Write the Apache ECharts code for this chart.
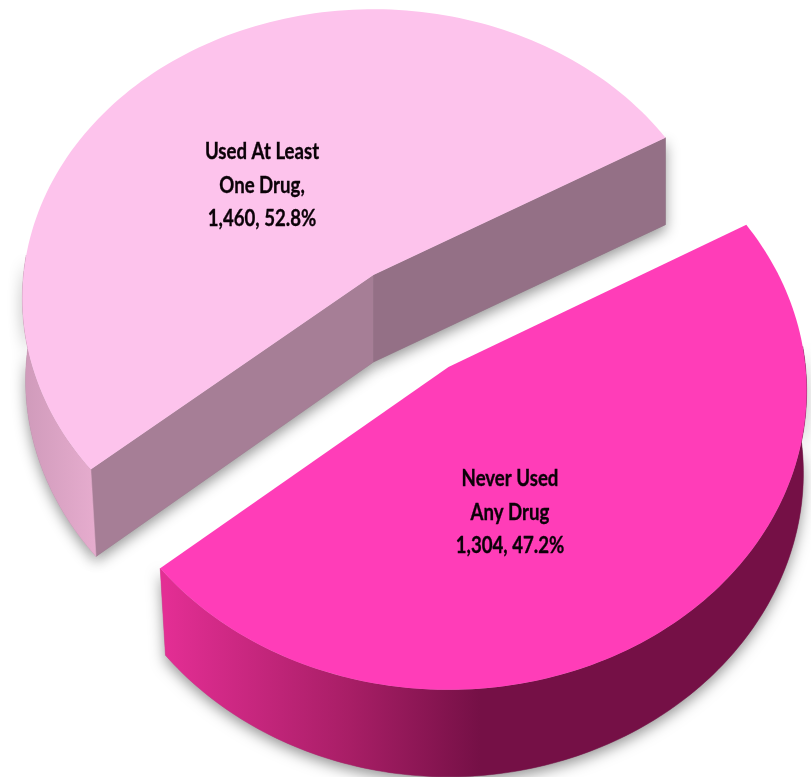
<!DOCTYPE html>
<html>
<head>
<meta charset="utf-8">
<style>html,body{margin:0;padding:0;background:#fff}#chart{width:811px;height:777px}</style>
<script src="https://cdn.jsdelivr.net/npm/echarts@6/dist/echarts.min.js"></script>
</head>
<body>
<div id="chart"></div>
<script>
// Drug use among respondents
const sliceNames = ['Used At Least One Drug', 'Never Used Any Drug'];
const sliceCounts = [1460, 1304];
const sliceLabels = [
  ['Used At Least', 'One Drug,', '1,460, 52.8%'],
  ['Never Used', 'Any Drug', '1,304, 47.2%']
];

const total = sliceCounts.reduce((a, b) => a + b, 0);
const DEG = Math.PI / 180;
const perspective = 0.08;
const depth = 87;
const firstAngle = 140;   // clockwise on screen, 0 = towards the right

// Each slice is pulled away from the pie, so it has its own disc placement.
const discs = [
  { cx: 373.5, cy: 275, a: 350, b: 287, label: [262, 152], top: '#FDC3EC',
    cutA: '#A67E96', cutB: '#947086',
    side: [[22, '#CF9ABA'], [95, '#E6ACCE']] },
  { cx: 448.5, cy: 367, a: 357, b: 297, label: [510, 479], top: '#FF3DB8',
    cutA: '#E22D92', cutB: '#751046',
    side: [[165, '#E32E94'], [350, '#A81E66'], [480, '#751046'], [806, '#751046']] }
];

function project(d, deg, r, z) {
  const X = r * Math.cos(deg * DEG), Y = r * Math.sin(deg * DEG);
  const w = 1 - perspective * Y;
  // The lower rim narrows slightly towards the viewer.
  const shrink = Math.max(0.008 + 0.016 * Y, 0) * z;
  return [
    d.cx + d.a * X / w * (1 - shrink),
    d.cy + d.b * Y / w + depth * z
  ];
}

function arc(d, from, to, z) {
  const pts = [], n = 140;
  for (let i = 0; i <= n; i++) pts.push(project(d, from + (to - from) * i / n, 1, z));
  return pts;
}

const shadow = { fill: '#888', shadowColor: 'rgba(0,0,0,0.42)', shadowBlur: 14, shadowOffsetY: 5 };

function gradientAcross(stops) {
  const x0 = stops[0][0], x1 = stops[stops.length - 1][0];
  return {
    type: 'linear', global: true, x: x0, y: 0, x2: x1, y2: 0,
    colorStops: stops.map(s => ({ offset: (s[0] - x0) / (x1 - x0), color: s[1] }))
  };
}

function renderSlice(params, api) {
  const i = params.dataIndex;
  const d = discs[i];
  const sweep = api.value(0) / total * 360;
  let start = firstAngle;
  for (let k = 0; k < i; k++) start += sliceCounts[k] / total * 360;
  const end = start + sweep;
  const mid = (start + end) / 2;
  const apexTop = project(d, 0, 0, 0), apexLow = project(d, 0, 0, 1);
  const faces = [];

  // Cut faces only show on the slice whose middle points away from the viewer.
  if (Math.sin(mid * DEG) < 0) {
    faces.push({ fill: d.cutA, points: [apexTop, project(d, start, 1, 0), project(d, start, 1, 1), apexLow] });
    faces.push({ fill: d.cutB, points: [apexTop, project(d, end, 1, 0), project(d, end, 1, 1), apexLow] });
  }

  // Outer wall: only the front-facing part of the rim.
  const normStart = ((start % 360) + 360) % 360;
  const wallFrom = normStart > 185 ? normStart - 360 : normStart;
  const from = Math.max(wallFrom, -4), to = Math.min(wallFrom + sweep, 184);
  if (to > from) {
    faces.push({ fill: gradientAcross(d.side), points: arc(d, from, to, 0).concat(arc(d, to, from, 1)) });
  }

  // Soft shadows go down first so they never fall across a neighbouring face.
  const children = faces.map(f => ({ type: 'polygon', shape: { points: f.points }, style: shadow }));
  faces.forEach(f => children.push({
    type: 'polygon', shape: { points: f.points }, style: { fill: f.fill, stroke: f.fill, lineWidth: 0.5 }
  }));

  // Top surface.
  children.push({ type: 'polygon', shape: { points: [apexTop].concat(arc(d, start, end, 0)) }, style: { fill: d.top } });

  // Label lines, condensed horizontally.
  sliceLabels[i].forEach((line, n) => {
    children.push({
      type: 'text',
      x: d.label[0], y: d.label[1] + n * 33.5, scaleX: 0.81,
      style: {
        text: line, x: 0, y: 0,
        align: 'center', verticalAlign: 'middle',
        fill: '#0b0208', stroke: '#0b0208', lineWidth: 0.35,
        font: 'bold 23px Lato, "Open Sans", sans-serif'
      }
    });
  });
  return { type: 'group', children };
}

const chart = echarts.init(document.getElementById('chart'), null, { renderer: 'canvas' });
chart.setOption({
  backgroundColor: '#ffffff',
  animation: false,
  series: [{
    type: 'custom',
    coordinateSystem: 'none',
    silent: true,
    renderItem: renderSlice,
    data: sliceCounts.map((v, i) => ({ name: sliceNames[i], value: [v] }))
  }]
});
</script>
</body>
</html>
